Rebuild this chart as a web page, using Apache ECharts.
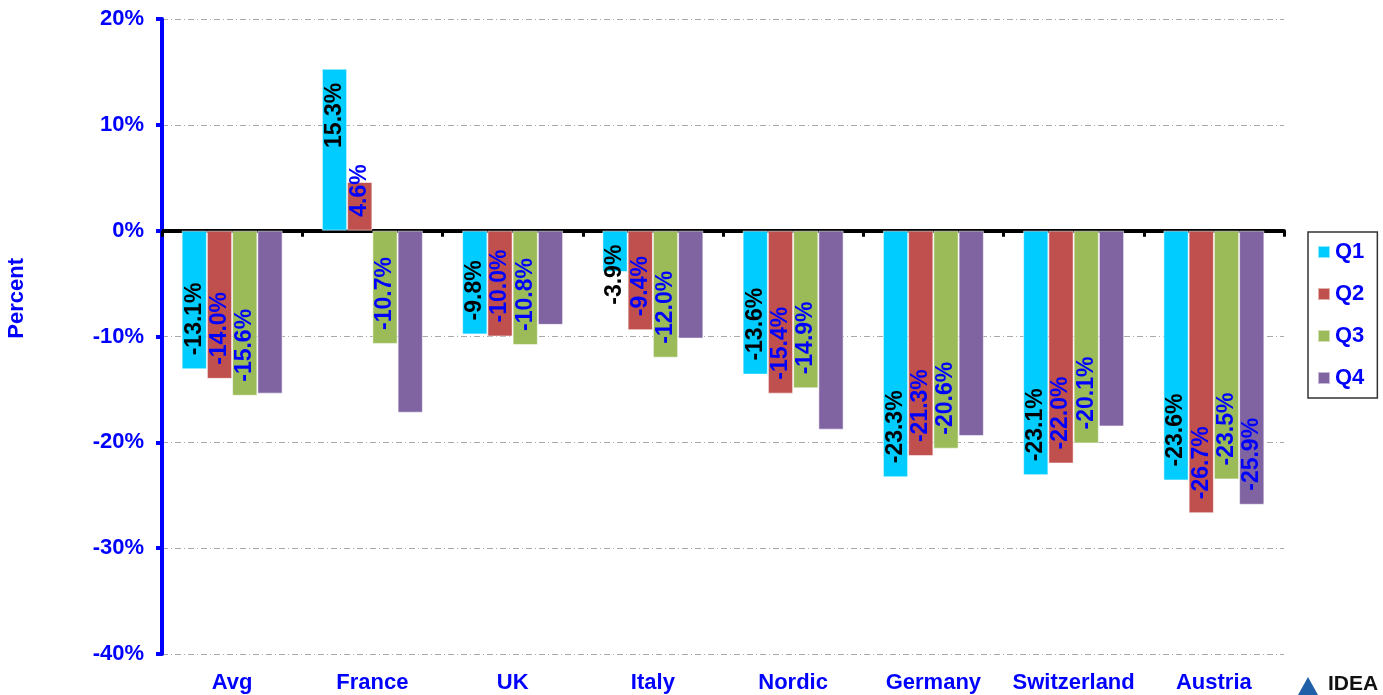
<!DOCTYPE html>
<html>
<head>
<meta charset="utf-8">
<script src="https://cdn.jsdelivr.net/npm/echarts@6/dist/echarts.min.js"></script>
<style>
  html, body { margin: 0; padding: 0; background: #fff; }
  #chart { width: 1383px; height: 695px; }
</style>
</head>
<body>
<div id="chart"></div>
<script>
// data (percent)
var categories = ['Avg', 'France', 'UK', 'Italy', 'Nordic', 'Germany', 'Switzerland', 'Austria'];
var seriesNames = ['Q1', 'Q2', 'Q3', 'Q4'];
var q1 = [-13.1, 15.3, -9.8, -3.9, -13.6, -23.3, -23.1, -23.6];
var q2 = [-14.0, 4.6, -10.0, -9.4, -15.4, -21.3, -22.0, -26.7];
var q3 = [-15.6, -10.7, -10.8, -12.0, -14.9, -20.6, -20.1, -23.5];
var q4 = [-15.4, -17.2, -8.9, -10.2, -18.8, -19.4, -18.5, -25.9];
var q4Labelled = [false, false, false, false, false, false, false, true];

var colors = ['#00CCFF', '#C0504D', '#9BBB59', '#8064A2'];
var labelColors = ['#000000', '#0000FF', '#0000FF', '#0000FF'];
var FONT = 'Liberation Sans, Arial, sans-serif';

// label sits at the bar end, or at the base when the bar is too short
function labelFor(v, color, show) {
    var fits = Math.abs(v) >= 7;
    var atBottom = v < 0 ? fits : !fits;
    return {
        show: show,
        position: atBottom ? 'insideBottom' : 'insideTop',
        distance: 14,
        rotate: 90,
        align: atBottom ? 'left' : 'right',
        verticalAlign: 'middle',
        color: color,
        fontFamily: FONT,
        fontWeight: 'bold',
        fontSize: 23,
        formatter: function (p) { return p.value.toFixed(1) + '%'; }
    };
}

function buildSeries(name, values, idx, flags) {
    return {
        name: name,
        type: 'bar',
        barGap: '0%',
        barCategoryGap: '28%',
        itemStyle: { color: colors[idx], borderColor: 'rgba(255,255,255,0.55)', borderWidth: 1 },
        data: values.map(function (v, i) {
            return { value: v, label: labelFor(v, labelColors[idx], flags ? flags[i] : true) };
        })
    };
}

var myChart = echarts.init(document.getElementById('chart'));

var option = {
    animation: false,
    backgroundColor: '#fff',
    grid: { left: 162, right: 99, top: 19, bottom: 41, containLabel: false },
    legend: {
        data: seriesNames,
        orient: 'vertical',
        left: 1308,
        top: 232,
        icon: 'rect',
        itemWidth: 12,
        itemHeight: 12,
        itemGap: 20,
        padding: [9, 13, 9, 9],
        borderColor: '#333',
        borderWidth: 1.5,
        textStyle: { color: '#0000FF', fontFamily: FONT, fontWeight: 'bold', fontSize: 22, lineHeight: 22 }
    },
    xAxis: [{
        type: 'category',
        data: categories,
        position: 'bottom',
        axisLine: { show: false, onZero: false },
        axisTick: { show: false },
        axisLabel: { interval: 0, margin: 18, color: '#0000FF', fontFamily: FONT, fontWeight: 'bold', fontSize: 22 }
    }, {
        type: 'category',
        data: categories,
        position: 'bottom',
        axisLine: { show: true, onZero: true, lineStyle: { color: '#000', width: 4 } },
        axisTick: { show: true, interval: 0, length: 6, lineStyle: { color: '#000', width: 3 } },
        axisLabel: { show: false }
    }],
    yAxis: {
        type: 'value',
        min: -40,
        max: 20,
        interval: 10,
        axisLine: { show: true, lineStyle: { color: '#0000FF', width: 4 } },
        axisTick: { show: true, length: 6, lineStyle: { color: '#0000FF', width: 4 } },
        axisLabel: {
            margin: 18,
            color: '#0000FF',
            fontFamily: FONT,
            fontWeight: 'bold',
            fontSize: 22,
            formatter: '{value}%'
        },
        splitLine: { show: true, lineStyle: { color: '#aaa', width: 1, type: [6, 3, 1, 3] } }
    },
    graphic: [{
        type: 'text',
        left: 6,
        top: 258,
        rotation: Math.PI / 2,
        style: { text: 'Percent', fill: '#0000FF', font: 'bold 22px ' + FONT }
    }, {
        type: 'polygon',
        shape: { points: [[1298, 695], [1308, 677], [1318, 695]] },
        style: { fill: '#1F5FA8' }
    }, {
        type: 'text',
        left: 1328,
        top: 674,
        style: { text: 'IDEA', fill: '#111', font: 'bold 21px ' + FONT }
    }],
    series: [
        buildSeries('Q1', q1, 0),
        buildSeries('Q2', q2, 1),
        buildSeries('Q3', q3, 2),
        buildSeries('Q4', q4, 3, q4Labelled)
    ]
};

myChart.setOption(option);
</script>
</body>
</html>
